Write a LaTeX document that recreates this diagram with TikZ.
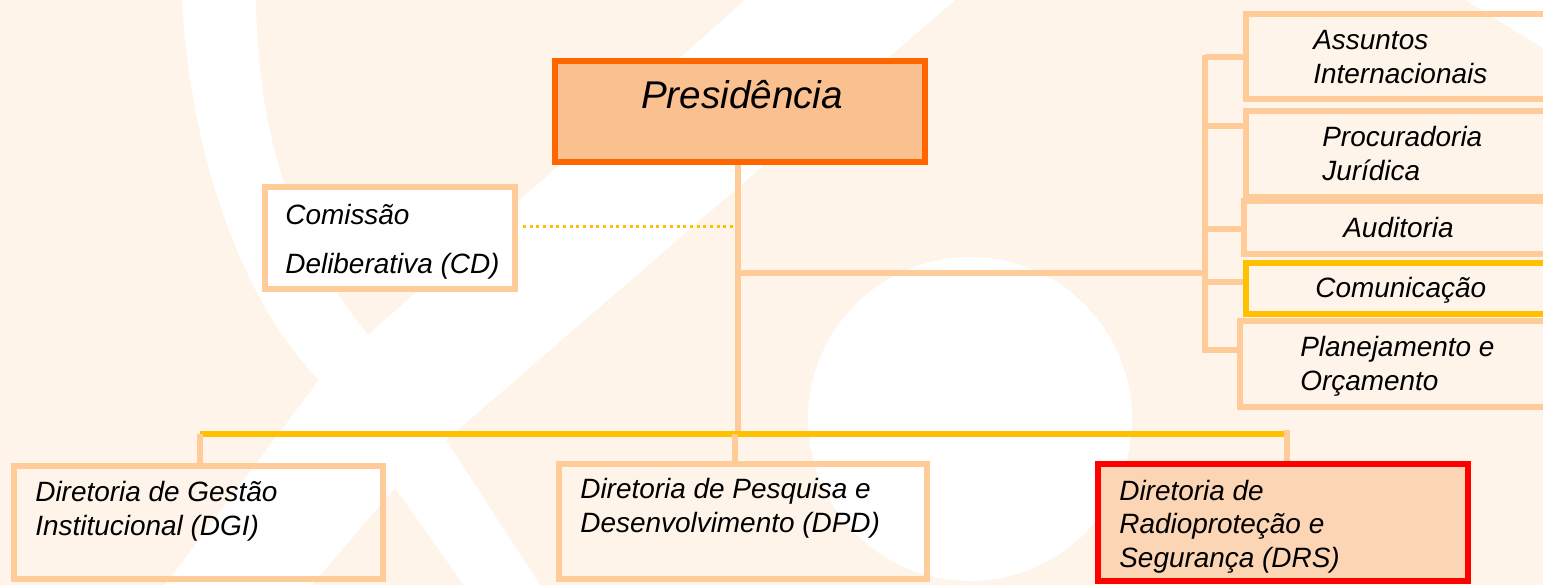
\documentclass[tikz,border=0pt]{standalone}
\usepackage{fontspec}
\setmainfont{Liberation Sans}
\usetikzlibrary{positioning}

\definecolor{bgpeach}{RGB}{254,244,233}
\definecolor{boxline}{RGB}{255,204,153}
\definecolor{presfill}{RGB}{250,192,144}
\definecolor{presline}{RGB}{255,102,0}
\definecolor{drsfill}{RGB}{252,213,181}
\definecolor{gold}{RGB}{255,192,0}

\begin{document}
\begin{tikzpicture}[x=0.02cm, y=-0.02cm,
  box/.style={draw=boxline, line width=3.4pt, inner sep=0pt},
  lbl/.style={font=\itshape\fontsize{15.9}{18.9}\selectfont, align=left, inner sep=0pt, anchor=base west},
  link/.style={draw=boxline, line width=3.3pt}]
\clip (0,0) rectangle (1543,585);

% background
\fill[bgpeach] (0,0) rectangle (1543,585);
\fill[white] (182,0) -- (256,0) .. controls (258,150) and (300,250) .. (368,335) -- (745,0) -- (955,0) -- (446,440) -- (540,585) -- (464,585) -- (395,488) -- (312,585) -- (165,585) -- (319,380) .. controls (240,300) and (190,150) .. (182,0) -- cycle;
\fill[white] (970,419) circle (3.24cm);
\fill[white] (1465,0) -- (1543,0) -- (1543,48) -- cycle;

\coordinate (bus-l) at (200,434);
\coordinate (bus-m) at (735,434);
\coordinate (bus-r) at (1287,434);
\coordinate (hub) at (738,273);
\coordinate (spine-t) at (1205,55);
\coordinate (spine-b) at (1205,353);

\node[box, fill=presfill, draw=presline, line width=3.1pt, minimum width=7.4cm, minimum height=2.02cm] (pres) at (740,111.5) {};
\node[box, fill=white, minimum width=5cm, minimum height=2.04cm] (cd) at (390,238) {};

\node[box, minimum width=6.28cm, minimum height=1.7cm] (ai) at (1403,56.5) {};
\node[box, minimum width=6.28cm, minimum height=1.72cm] (pj) at (1403,154) {};
\node[box, minimum width=6.32cm, minimum height=1.06cm] (aud) at (1402,227.5) {};
\node[box, draw=gold, minimum width=6.28cm, minimum height=1.02cm] (com) at (1403,288.5) {};
\node[box, minimum width=6.4cm, minimum height=1.72cm] (po) at (1400,364) {};

\node[box, minimum width=7.38cm, minimum height=2.26cm] (dgi) at (198.5,522.5) {};
\node[box, minimum width=7.36cm, minimum height=2.3cm] (dpd) at (743,521.5) {};
\node[box, fill=drsfill, draw=red, line width=3.8pt, minimum width=7.4cm, minimum height=2.34cm] (drs) at (1283,522.5) {};

% texts sit on the baseline of their last line
\node[lbl, anchor=base, font=\itshape\fontsize{22}{26}\selectfont] (pres-t) at (742,108) {Presidência};
\node[lbl, font=\itshape\fontsize{15.9}{27.8}\selectfont] (cd-t) at (285,273) {Comissão\\Deliberativa (CD)};
\node[lbl] (ai-t) at (1313,83) {Assuntos\\Internacionais};
\node[lbl] (pj-t) at (1322,180) {Procuradoria\\Jurídica};
\node[lbl] (aud-t) at (1343,237) {Auditoria};
\node[lbl] (com-t) at (1315,297) {Comunicação};
\node[lbl] (po-t) at (1300,390) {Planejamento e\\Orçamento};
\node[lbl] (dgi-t) at (35,535) {Diretoria de Gestão\\Institucional (DGI)};
\node[lbl] (dpd-t) at (580,532) {Diretoria de Pesquisa e\\Desenvolvimento (DPD)};
\node[lbl] (drs-t) at (1119,567) {Diretoria de\\Radioproteção e\\Segurança (DRS)};

\draw[gold, line width=1.7pt, dash pattern=on 1.7pt off 2.1pt] ([xshift=0.1cm]cd.east |- 0,226.5) -- (hub |- 0,226.5);
\draw[link] (hub |- pres.south) -- (hub |- bus-l);
\draw[link] (hub) -- (hub -| spine-t);
\draw[link] (spine-t) -- (spine-b);
\foreach \y/\n in {57/ai, 126/pj, 229/aud, 282/com, 350/po}
  \draw[link] (spine-t |- 0,\y) -- (\n.west |- 0,\y);

\draw[gold, line width=3.2pt] (bus-l) -- (bus-r);
\draw[link] (bus-l) -- (bus-l |- dgi.north);
\draw[link] (bus-m) -- (bus-m |- dpd.north);
\draw[link] ([yshift=0.08cm]bus-r) -- (bus-r |- drs.north);

\end{tikzpicture}
\end{document}
